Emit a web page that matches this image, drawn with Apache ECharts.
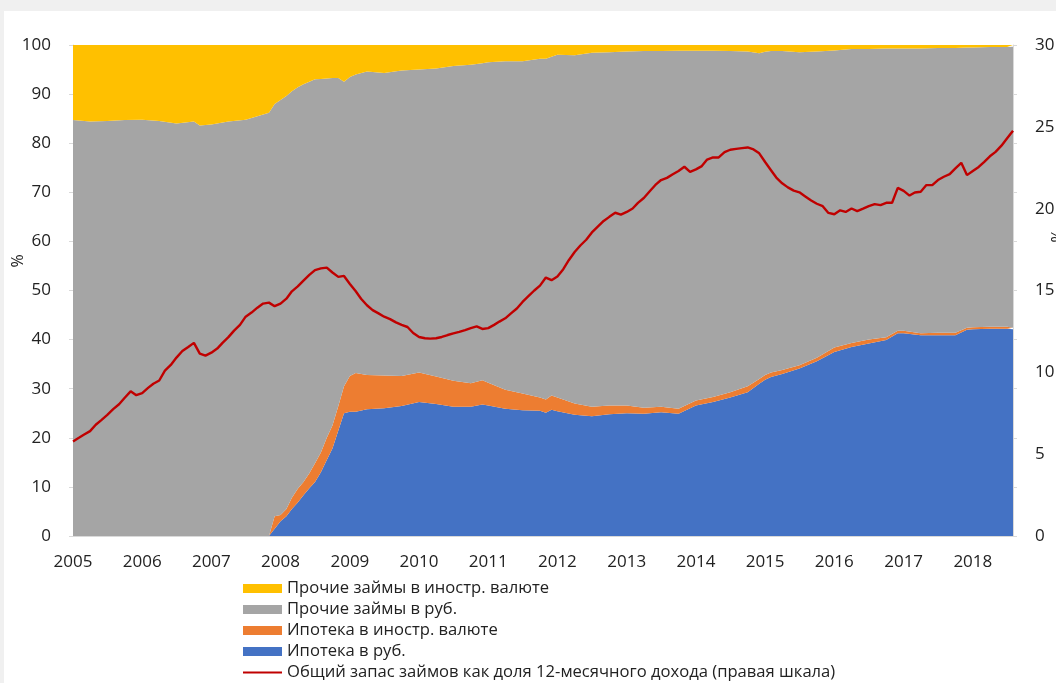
<!DOCTYPE html>
<html>
<head>
<meta charset="utf-8">
<script src="https://cdn.jsdelivr.net/npm/echarts@6/dist/echarts.min.js"></script>
<style>
  html, body { margin: 0; padding: 0; width: 1056px; height: 683px; overflow: hidden; background: #f0f0f0; }
  #chart { position: absolute; left: 4px; top: 11px; width: 1052px; height: 672px; background: #ffffff; }
</style>
</head>
<body>
<div id="chart"></div>
<script>
// Structure of household loans, % of total (stacked), sampled months
const shareMonths = [
  '2005-01','2005-04','2005-07','2005-10','2006-01','2006-04','2006-07','2006-10','2006-11',
  '2007-01','2007-04','2007-07','2007-09','2007-11','2007-12',
  '2008-01','2008-02','2008-03','2008-04','2008-05','2008-06','2008-07','2008-08','2008-09','2008-10','2008-11','2008-12',
  '2009-01','2009-02','2009-04','2009-07','2009-10',
  '2010-01','2010-04','2010-07','2010-10','2010-12',
  '2011-01','2011-04','2011-07','2011-10','2011-11','2011-12',
  '2012-01','2012-04','2012-07','2012-10',
  '2013-01','2013-04','2013-07','2013-10',
  '2014-01','2014-04','2014-07','2014-10','2014-12',
  '2015-01','2015-02','2015-04','2015-07','2015-10',
  '2016-01','2016-04','2016-07','2016-10','2016-12',
  '2017-01','2017-04','2017-07','2017-10','2017-12',
  '2018-01','2018-04','2018-07','2018-08'
];

// Ипотека в руб.
const mortgageRub = [
  0,0,0,0,0,0,0,0,0, 0,0,0,0,0,1.5,
  3.0,4.0,5.5,6.8,8.3,9.7,11.0,13.0,15.5,17.8,21.5,25.0,
  25.3,25.3,25.8,26.0,26.5,
  27.3,26.9,26.3,26.3,26.8,
  26.6,25.9,25.6,25.5,25.1,25.7,
  25.4,24.7,24.4,24.8,
  25.0,24.9,25.2,24.9,
  26.6,27.3,28.2,29.3,31.0,
  31.8,32.4,33.0,34.1,35.6,
  37.5,38.5,39.2,39.9,41.3,
  41.3,40.9,40.9,40.9,42.0,
  42.1,42.2,42.2,42.1
];

// Ипотека в иностр. валюте
const mortgageFx = [
  0,0,0,0,0,0,0,0,0, 0,0,0,0,0,2.5,
  1.3,1.5,2.3,2.8,2.7,3.1,3.8,4.0,4.5,4.7,5.0,5.5,
  7.3,7.9,7.0,6.7,6.1,
  6.0,5.6,5.3,4.8,4.9,
  4.6,3.9,3.4,2.7,2.7,2.9,
  2.8,2.3,1.9,1.8,
  1.6,1.2,1.1,1.0,
  1.0,1.0,1.1,1.2,1.0,
  1.0,0.9,0.8,0.7,0.7,
  0.9,0.8,0.8,0.6,0.5,
  0.5,0.4,0.5,0.5,0.4,
  0.4,0.4,0.4,0.3
];

// Прочие займы в руб.
const otherRub = [
  84.7,84.4,84.5,84.7,84.8,84.5,84.0,84.4,83.6, 83.8,84.4,84.8,85.5,86.2,84.0,
  84.5,84.1,82.8,81.8,81.0,79.7,78.2,76.1,73.2,70.8,66.8,62.0,
  60.9,60.8,61.8,61.6,62.2,
  61.7,62.7,64.1,64.9,64.6,
  65.3,66.9,67.7,69.0,69.4,69.0,
  69.8,70.9,72.1,71.9,
  72.1,72.7,72.5,72.95,
  71.25,70.55,69.5,68.2,66.3,
  65.8,65.5,65.0,63.7,62.4,
  60.5,59.9,59.2,58.8,57.5,
  57.5,58.0,58.0,58.0,57.1,
  57.0,57.0,57.0,57.25
];

// Прочие займы в иностр. валюте
const otherFx = [
  15.3,15.6,15.5,15.3,15.2,15.5,16.0,15.6,16.4, 16.2,15.6,15.2,14.5,13.8,12.0,
  11.2,10.4,9.4,8.6,8.0,7.5,7.0,6.9,6.8,6.7,6.7,7.5,
  6.5,6.0,5.4,5.7,5.2,
  5.0,4.8,4.3,4.0,3.7,
  3.5,3.3,3.3,2.8,2.8,2.4,
  2.0,2.1,1.6,1.5,
  1.3,1.2,1.2,1.15,
  1.15,1.15,1.2,1.3,1.7,
  1.4,1.2,1.2,1.5,1.3,
  1.1,0.8,0.8,0.7,0.7,
  0.7,0.7,0.6,0.6,0.5,
  0.5,0.4,0.4,0.35
];

// Total loan stock as a share of 12-month income, %, monthly from 2005-01
const debtStart = '2005-01';
const debtToIncome = [
  5.78,6.0,6.2,6.41,6.8,7.1,7.4,7.75,8.05,8.45,8.84,8.6,
  8.73,9.05,9.3,9.5,10.1,10.45,10.9,11.3,11.55,11.8,11.14,11.02,
  11.2,11.45,11.8,12.15,12.55,12.9,13.4,13.65,13.95,14.2,14.26,14.04,
  14.2,14.5,14.95,15.25,15.6,15.95,16.25,16.35,16.4,16.1,15.83,15.89,
  15.4,14.95,14.5,14.1,13.8,13.6,13.4,13.25,13.05,12.9,12.77,12.4,
  12.16,12.08,12.06,12.08,12.16,12.28,12.38,12.47,12.58,12.7,12.81,12.65,
  12.7,12.9,13.1,13.3,13.6,13.9,14.3,14.65,15.0,15.3,15.79,15.63,
  15.85,16.3,16.85,17.35,17.75,18.1,18.55,18.9,19.25,19.5,19.75,19.64,
  19.8,20.01,20.35,20.65,21.05,21.45,21.75,21.88,22.1,22.3,22.56,22.25,
  22.4,22.6,23.0,23.13,23.13,23.45,23.6,23.65,23.7,23.74,23.62,23.38,
  22.85,22.35,21.9,21.55,21.3,21.1,21.0,20.75,20.5,20.3,20.15,19.74,
  19.66,19.9,19.8,20.01,19.85,20.0,20.15,20.28,20.22,20.36,20.36,21.27,
  21.09,20.8,20.99,21.03,21.44,21.44,21.75,21.95,22.11,22.46,22.8,22.05,
  22.3,22.55,22.85,23.2,23.47,23.85,24.3,24.76
];

const seriesNames = [
  'Прочие займы в иностр. валюте',
  'Прочие займы в руб.',
  'Ипотека в иностр. валюте',
  'Ипотека в руб.',
  'Общий запас займов как доля 12-месячного дохода (правая шкала)'
];
const axisUnit = '%';

// 'YYYY-MM' -> timestamp of the first day of that month
function toTime(s) {
  const [y, m] = s.split('-').map(Number);
  return new Date(y, m - 1, 1).getTime();
}
function addMonths(s, k) {
  const [y, m] = s.split('-').map(Number);
  return new Date(y, m - 1 + k, 1).getTime();
}
const xShare = shareMonths.map(toTime);
const xDebt = debtToIncome.map((_, i) => addMonths(debtStart, i));
const pairs = (xs, vs) => vs.map((v, i) => [xs[i], v]);

const FONT = "'Open Sans', 'Noto Sans', sans-serif";
const TXT = '#222222';
const AX = '#d9d9d9';
const YEAR_MS = 365.25 * 24 * 3600 * 1000;

function areaSeries(name, color, values) {
  return {
    name, type: 'line', stack: 'share', data: pairs(xShare, values),
    symbol: 'none', lineStyle: { width: 0, color }, itemStyle: { color },
    areaStyle: { color, opacity: 1 }, emphasis: { disabled: true }, z: 2
  };
}

// rotated axis unit captions
function unitCaption(x, y) {
  return {
    type: 'text', x, y, rotation: Math.PI / 2, silent: true,
    style: { text: axisUnit, font: "16px 'Open Sans', sans-serif", fill: TXT, align: 'center', verticalAlign: 'middle' }
  };
}

const chart = echarts.init(document.getElementById('chart'), null, { renderer: 'canvas' });
chart.setOption({
  animation: false,
  backgroundColor: '#ffffff',
  textStyle: { fontFamily: FONT },
  grid: { left: 69, top: 34, width: 940, height: 491, containLabel: false, outerBoundsMode: 'none' },
  graphic: [unitCaption(14, 250), unitCaption(1054, 225)],
  legend: [
    {
      orient: 'vertical', left: 239, top: 569, padding: 0, icon: 'rect',
      itemWidth: 39, itemHeight: 9, itemGap: 4,
      textStyle: { fontFamily: FONT, fontSize: 16.6, color: TXT, lineHeight: 16 },
      data: seriesNames.slice(0, 4), selectedMode: false
    },
    {
      orient: 'vertical', left: 239, top: 653, padding: 0, icon: 'rect',
      itemWidth: 39, itemHeight: 2,
      textStyle: { fontFamily: FONT, fontSize: 16.6, color: TXT, lineHeight: 16 },
      data: [seriesNames[4]], selectedMode: false
    }
  ],
  xAxis: [
    {
      type: 'time', min: toTime(debtStart), max: xDebt[xDebt.length - 1],
      minInterval: YEAR_MS, maxInterval: YEAR_MS, splitNumber: 14,
      splitLine: { show: false },
      axisLine: { show: true, lineStyle: { color: AX, width: 1 } },
      axisTick: { show: false },
      axisLabel: {
        margin: 18, fontSize: 17, color: TXT, fontFamily: FONT,
        formatter: v => {
          const d = new Date(v);
          return d.getMonth() === 0 && d.getDate() === 1 ? String(d.getFullYear()) : '';
        }
      }
    },
    {
      type: 'time', position: 'top', min: toTime(debtStart), max: xDebt[xDebt.length - 1], z: 3,
      splitLine: { show: false }, axisTick: { show: false }, axisLabel: { show: false },
      axisLine: { show: true, lineStyle: { color: AX, width: 1 } }
    }
  ],
  yAxis: [
    {
      type: 'value', min: 0, max: 100, interval: 10, position: 'left',
      splitLine: { show: false },
      axisLine: { show: true, lineStyle: { color: AX } },
      axisTick: { show: true, inside: false, length: 4, lineStyle: { color: AX } },
      axisLabel: { margin: 22, fontSize: 17, color: TXT, fontFamily: FONT }
    },
    {
      type: 'value', min: 0, max: 30, interval: 5, position: 'right', offset: 0,
      splitLine: { show: false },
      axisLine: { show: true, lineStyle: { color: AX } },
      axisTick: { show: false },
      axisLabel: { margin: 22, fontSize: 17, color: TXT, fontFamily: FONT, align: 'left' }
    },
    {
      type: 'value', min: 0, max: 30, interval: 3, position: 'right', offset: 0,
      splitLine: { show: false },
      axisLine: { show: false },
      axisTick: { show: true, inside: false, length: 4, lineStyle: { color: AX } },
      axisLabel: { show: false }
    }
  ],
  series: [
    areaSeries(seriesNames[3], '#4472C4', mortgageRub),
    areaSeries(seriesNames[2], '#ED7D31', mortgageFx),
    areaSeries(seriesNames[1], '#A5A5A5', otherRub),
    areaSeries(seriesNames[0], '#FFC000', otherFx),
    {
      name: seriesNames[4], type: 'line', yAxisIndex: 1,
      data: pairs(xDebt, debtToIncome),
      symbol: 'none', lineStyle: { color: '#C00000', width: 2.4 },
      itemStyle: { color: '#C00000' }, emphasis: { disabled: true }, z: 5
    }
  ]
});
</script>
</body>
</html>
